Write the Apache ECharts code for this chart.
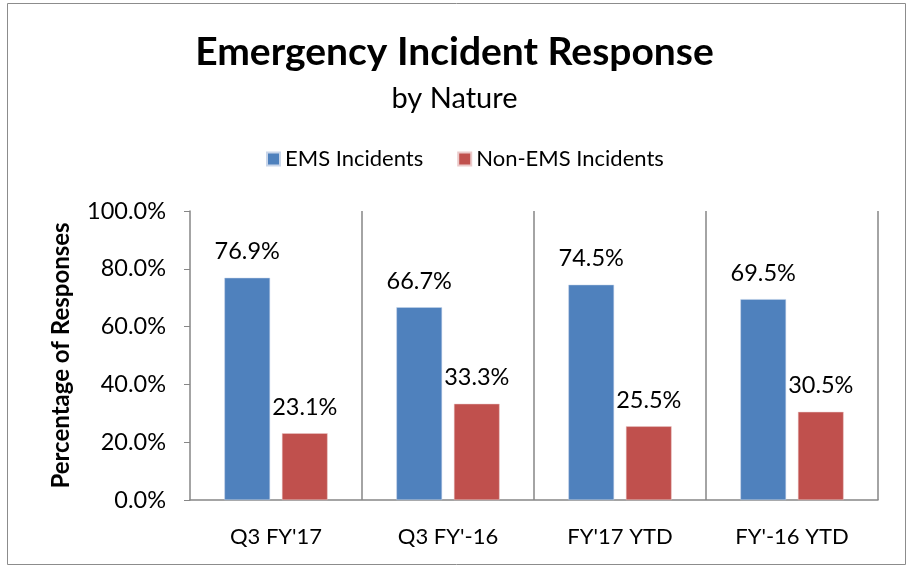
<!DOCTYPE html>
<html>
<head>
<meta charset="utf-8">
<script src="https://cdn.jsdelivr.net/npm/echarts@6/dist/echarts.min.js"></script>
<style>
  html, body { margin: 0; padding: 0; background: #fff; }
  #chart { width: 909px; height: 568px; }
</style>
</head>
<body>
<div id="chart"></div>
<script>
// categories and values
var categories = ["Q3 FY'17", "Q3 FY'-16", "FY'17 YTD", "FY'-16 YTD"]
var emsValues = [76.9, 66.7, 74.5, 69.5]
var nonEmsValues = [23.1, 33.3, 25.5, 30.5]
var seriesNames = ['EMS Incidents', 'Non-EMS Incidents']

var font = 'Lato, "Liberation Sans", sans-serif'
var axisGray = '#868686'

var chart = echarts.init(document.getElementById('chart'))

var labelStyle = {
  show: true,
  position: 'top',
  distance: 14,
  fontFamily: font,
  fontSize: 23.5,
  color: '#000',
  formatter: function (p) { return p.value.toFixed(1) + '%' }
}

chart.setOption({
  animation: false,
  textStyle: { fontFamily: font },
  // outer chart border
  graphic: [{
    type: 'rect',
    shape: { x: 7.5, y: 3.5, width: 898, height: 561 },
    style: { fill: 'none', stroke: '#8c8c8c', lineWidth: 1 },
    silent: true
  }],
  title: {
    text: 'Emergency Incident Response',
    subtext: 'by Nature',
    left: 'center',
    top: 28,
    itemGap: 12,
    textStyle: { fontFamily: font, fontSize: 39, fontWeight: 'bold', color: '#000' },
    subtextStyle: { fontFamily: font, fontSize: 29, color: '#000' }
  },
  legend: {
    data: seriesNames,
    top: 143,
    left: 261,
    itemWidth: 13,
    itemHeight: 13,
    itemGap: 34,
    icon: 'rect',
    textStyle: { fontFamily: font, fontSize: 22, color: '#000' }
  },
  grid: { left: 190, right: 31, top: 211, bottom: 68 },
  xAxis: {
    type: 'category',
    data: categories,
    axisLine: { lineStyle: { color: axisGray, width: 1.5 } },
    axisTick: { show: false },
    axisLabel: { fontFamily: font, fontSize: 22, color: '#000', margin: 26 },
    splitLine: {
      show: true,
      showMinLine: false,
      showMaxLine: true,
      lineStyle: { color: axisGray, width: 1.5 }
    }
  },
  yAxis: {
    type: 'value',
    min: 0,
    max: 100,
    interval: 20,
    name: 'Percentage of Responses',
    nameLocation: 'middle',
    nameGap: 117,
    nameTextStyle: { fontFamily: font, fontSize: 24, fontWeight: 'bold', color: '#000' },
    axisLine: { show: true, lineStyle: { color: axisGray, width: 1.5 } },
    axisTick: { show: true, length: 6, lineStyle: { color: axisGray } },
    axisLabel: {
      fontFamily: font,
      fontSize: 23.5,
      color: '#000',
      margin: 24,
      formatter: function (v) { return v.toFixed(1) + '%' }
    },
    splitLine: { show: false }
  },
  series: [
    {
      name: seriesNames[0],
      type: 'bar',
      data: emsValues,
      barGap: '26%',
      barCategoryGap: '40%',
      itemStyle: { color: '#4F81BD', borderColor: '#c9d6ea', borderWidth: 0.5 },
      label: labelStyle
    },
    {
      name: seriesNames[1],
      type: 'bar',
      data: nonEmsValues,
      itemStyle: { color: '#C0504D', borderColor: '#ebcaca', borderWidth: 0.5 },
      label: labelStyle
    }
  ]
})
</script>
</body>
</html>
